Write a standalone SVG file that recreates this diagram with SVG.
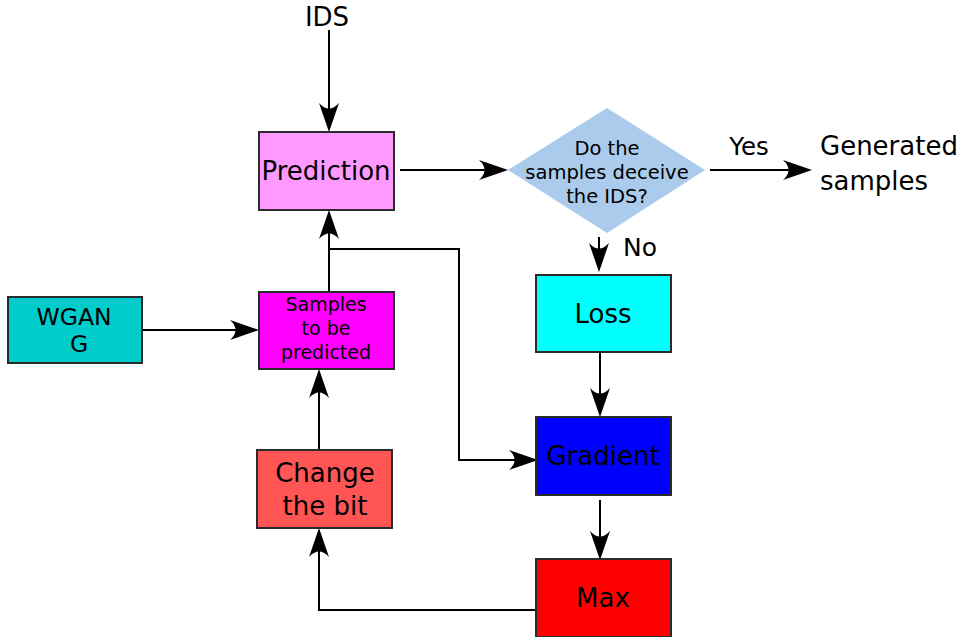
<svg xmlns="http://www.w3.org/2000/svg" width="963" height="637" viewBox="0 0 963 637">
<style>
.box{stroke:#2a2a2a;stroke-width:2}
.t{font-family:"DejaVu Sans",Verdana,sans-serif;fill:#000;text-anchor:middle}
.c{fill:none;stroke:#000;stroke-width:2}
</style>
<defs>
<marker id="ah" markerUnits="userSpaceOnUse" viewBox="-12 -11 31 22" markerWidth="31" markerHeight="22" refX="0" refY="0" orient="auto">
<path d="M18,0 L-11,-10 Q0,0 -11,10 Z" fill="#000"/>
</marker>
</defs>
<rect width="963" height="637" fill="#fff"/>
<g id="connectors">
<path class="c" d="M329,30 V114" marker-end="url(#ah)"/>
<path class="c" d="M400,170 H490" marker-end="url(#ah)"/>
<path class="c" d="M599,237 V254" marker-end="url(#ah)"/>
<path class="c" d="M710,170 H794" marker-end="url(#ah)"/>
<path class="c" d="M329,292 V228" marker-end="url(#ah)"/>
<path class="c" d="M329,249 H459 V460 H520" marker-end="url(#ah)"/>
<path class="c" d="M142,330 H241" marker-end="url(#ah)"/>
<path class="c" d="M319,450 V387" marker-end="url(#ah)"/>
<path class="c" d="M536,610 H319 V546" marker-end="url(#ah)"/>
<path class="c" d="M600,352 V399" marker-end="url(#ah)"/>
<path class="c" d="M600,500 V542" marker-end="url(#ah)"/>
</g>
<g id="ids"><text class="t" x="327" y="26" font-size="26">IDS</text></g>
<g id="prediction">
<rect class="box" x="259" y="132" width="135" height="78" fill="#ff99ff"/>
<text class="t" x="326" y="180" font-size="26">Prediction</text>
</g>
<g id="decision">
<polygon points="607,108 705,170 607,233 508,170" fill="#aacbec"/>
<text class="t" x="607" y="155" font-size="19.5">Do the</text>
<text class="t" x="607" y="179" font-size="19.5">samples deceive</text>
<text class="t" x="607" y="203" font-size="19.5">the IDS?</text>
</g>
<g id="yes-label"><text class="t" x="749" y="155" font-size="24.5">Yes</text></g>
<g id="no-label"><text class="t" x="640" y="256" font-size="25">No</text></g>
<g id="generated">
<text x="820" y="155" font-size="26" font-family="DejaVu Sans,Verdana,sans-serif">Generated</text>
<text x="820" y="190" font-size="26" font-family="DejaVu Sans,Verdana,sans-serif">samples</text>
</g>
<g id="wgan">
<rect class="box" x="8" y="297" width="134" height="66" fill="#00cccc"/>
<text class="t" x="74" y="325" font-size="23.5">WGAN</text>
<text class="t" x="79" y="352" font-size="23.5">G</text>
</g>
<g id="samples">
<rect class="box" x="259" y="292" width="135" height="77" fill="#ff00ff"/>
<text class="t" x="326" y="311" font-size="19">Samples</text>
<text class="t" x="326" y="335" font-size="19">to be</text>
<text class="t" x="326" y="359" font-size="19">predicted</text>
</g>
<g id="change">
<rect class="box" x="257" y="450" width="135" height="78" fill="#ff5555"/>
<text class="t" x="325" y="482" font-size="26">Change</text>
<text class="t" x="325" y="515" font-size="26">the bit</text>
</g>
<g id="loss">
<rect class="box" x="536" y="275" width="135" height="77" fill="#00ffff"/>
<text class="t" x="603" y="323" font-size="26">Loss</text>
</g>
<g id="gradient">
<rect class="box" x="536" y="417" width="135" height="78" fill="#0000ff"/>
<text class="t" x="603" y="465" font-size="26">Gradient</text>
</g>
<g id="max">
<rect class="box" x="536" y="559" width="135" height="78" fill="#ff0000"/>
<text class="t" x="603" y="607" font-size="26">Max</text>
</g>
</svg>
